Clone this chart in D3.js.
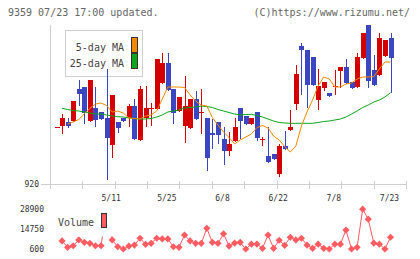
<!DOCTYPE html>
<html>
<head>
<meta charset="utf-8">
<script src="https://cdn.jsdelivr.net/npm/d3@7"></script>
<style>
  body { margin: 0; background: #fff; }
  svg { display: block; font-family: "DejaVu Sans Mono", monospace; }
</style>
</head>
<body>
<div id="chart"></div>
<script>
// Trading days shown on the chart
const dates = [
  "4/21","4/22","4/23","4/24","4/27","4/28","4/30","5/1","5/7","5/8",
  "5/11","5/12","5/13","5/14","5/15","5/18","5/19","5/20","5/21","5/22",
  "5/25","5/26","5/27","5/28","5/29","6/1","6/2","6/3","6/4","6/5",
  "6/8","6/9","6/10","6/11","6/12","6/15","6/16","6/17","6/18","6/19",
  "6/22","6/23","6/24","6/25","6/26","6/29","6/30","7/1","7/2","7/7",
  "7/8","7/9","7/10","7/13","7/14","7/15","7/16","7/17","7/20","7/21","7/23"
];

// Daily prices
const opens = [
  977, 978, 982, 983, 1015, 1017, 983, 996, 992, 986,
  959, 982, 986, 986, 998, 964, 986, 995, 995, 1021,
  1041, 1015, 993, 978, 976, 1005, 991, 986, 971, 982,
  965, 953, 963, 996, 988, 980, 992, 965, 948, 950,
  930, 958, 974, 1000, 1058, 1054, 1047, 1004, 1016, 1011,
  1018, 1033, 1037, 1022, 1017, 1046, 1079, 1034, 1029, 1048, 1066
];
const highs = [
  977, 990, 986, 1003, 1024, 1017, 1024, 1017, 992, 1035,
  1009, 982, 986, 1000, 1005, 1018, 1018, 1001, 1045, 1051,
  1051, 1015, 1007, 1028, 1005, 1013, 1015, 986, 985, 982,
  977, 972, 986, 996, 988, 986, 992, 967, 977, 950,
  960, 973, 994, 1039, 1061, 1054, 1047, 1035, 1022, 1011,
  1034, 1037, 1045, 1022, 1051, 1071, 1079, 1049, 1071, 1064, 1071
];
const lows = [
  977, 971, 977, 983, 999, 981, 983, 978, 985, 925,
  947, 972, 983, 978, 965, 964, 978, 979, 995, 1021,
  1014, 981, 993, 962, 976, 985, 971, 934, 956, 961,
  940, 949, 963, 966, 980, 980, 964, 959, 942, 945,
  928, 955, 974, 995, 1010, 997, 1019, 995, 1014, 1008,
  1010, 1017, 1021, 1016, 1017, 1046, 1017, 1019, 1029, 1048, 1012
];
const closes = [
  977, 986, 978, 1003, 1010, 991, 1024, 984, 985, 966,
  1009, 976, 983, 998, 965, 1015, 996, 996, 1045, 1041,
  1014, 991, 1007, 998, 1005, 985, 992, 946, 969, 969,
  953, 960, 977, 983, 980, 986, 966, 965, 942, 945,
  958, 955, 977, 1030, 1054, 1019, 1019, 1018, 1022, 1008,
  1018, 1037, 1021, 1016, 1047, 1071, 1023, 1019, 1066, 1064, 1046
];

// Moving averages
const ma5 = [
  null, null, 980, 982, 984.5, 990, 995.7, 1000, 1001, 998.5,
  992, 993, 991, 986, 985.5, 985, 988, 989, 993, 1005,
  1017, 1017, 1017, 1016.5, 1009, 1003, 999, 998, 986.5, 979,
  972, 966.5, 960, 964, 967, 970, 976.5, 978.5, 976, 968,
  964, 957.5, 952, 958, 978, 992, 1004, 1018, 1027, 1025,
  1017, 1017, 1020, 1021, 1025, 1027, 1027, 1027.5, 1035, 1042, 1042
];
const ma25 = [
  null, 995.7, 994.5, 993.5, 993, 992, 991, 990, 990, 989,
  988, 987.3, 987, 986, 985.5, 985, 985, 985.5, 987, 989,
  992, 993, 994, 996, 996.5, 997, 998, 997.5, 996.5, 994.5,
  993, 991.5, 990, 989, 989.5, 989.7, 988.5, 987, 985, 983,
  981.5, 981, 980.7, 980.7, 980.7, 980.7, 980.7, 981.5, 982.5, 983,
  984, 985, 987, 990, 993, 996.5, 999, 1002, 1004, 1007, 1011.3
];

// Volume
const volumes = [
  null, 6300, 1800, 2900, 7000, 5300, 4600, 2900, 2900, 28900,
  7000, 2200, 600, 2700, 3400, 8200, 3900, 4600, 8200, 7700,
  7700, 2200, 1800, 10500, 6300, 4600, 4600, 15200, 5300, 4600,
  11400, 2700, 4800, 5300, 600, 4000, 4100, 1100, 10500, 1100,
  6800, 3200, 8900, 7000, 8200, 3400, 1100, 4000, 1100, 600,
  4000, 4000, 14000, 600, 1800, 28800, 21700, 4800, 4000, 600, 8900
];

// Tick labels
const dateTicks = ["5/11", "5/25", "6/8", "6/22", "7/8", "7/23"];
const priceTicks = [920];
const volumeTicks = [600, 14750, 28900];

const W = 420, H = 259;
const plot = { left: 50, right: 406, top: 25, bottom: 184 };
const vol = { top: 209, bottom: 249 };

const upColor = "#d40000", downColor = "#3c46c0";
const volColor = "#ff5c62";

const svg = d3.select("#chart").append("svg")
  .attr("width", W)
  .attr("height", H);

const data = dates.map((d, i) => ({
  date: d, open: opens[i], high: highs[i], low: lows[i], close: closes[i],
  ma5: ma5[i], ma25: ma25[i], vol: volumes[i]
}));

// Scales
const x = d3.scalePoint()
  .domain(dates)
  .range([plot.left + 6.5, plot.right - 15.5]);

const y = d3.scaleLinear()
  .domain([920, 1079])
  .range([plot.bottom, plot.top]);

const yv = d3.scaleLinear()
  .domain([600, 28900])
  .range([vol.bottom, vol.top]);

const gridX = d3.scaleLinear().domain([0, 11]).range([plot.left, plot.right]);

// Header texts
svg.append("text")
  .attr("x", 8).attr("y", 15.5)
  .attr("font-size", 10).attr("fill", "#666")
  .text("9359 07/23 17:00 updated.");

svg.append("text")
  .attr("x", 410).attr("y", 15.5)
  .attr("text-anchor", "end")
  .attr("font-size", 10).attr("fill", "#666")
  .text("(C)https://www.rizumu.net/");

// Axis lines
const axisG = svg.append("g")
  .attr("stroke", "#cfcfcf")
  .attr("shape-rendering", "crispEdges");

axisG.append("line")
  .attr("x1", plot.left + 0.5).attr("x2", plot.left + 0.5)
  .attr("y1", plot.top).attr("y2", plot.bottom);

axisG.append("line")
  .attr("x1", plot.left - 9).attr("x2", plot.right)
  .attr("y1", plot.bottom + 0.5).attr("y2", plot.bottom + 0.5);

axisG.selectAll(".tick")
  .data(d3.range(0, 12))
  .enter().append("line")
  .attr("x1", d => Math.round(gridX(d)) + 0.5)
  .attr("x2", d => Math.round(gridX(d)) + 0.5)
  .attr("y1", plot.bottom - 3)
  .attr("y2", plot.bottom + 5);

// Price label
svg.selectAll(".ptick")
  .data(priceTicks)
  .enter().append("text")
  .attr("x", 39).attr("y", d => y(d) + 3)
  .attr("text-anchor", "end")
  .attr("font-size", 8).attr("fill", "#333")
  .text(d => d);

// Date labels
svg.selectAll(".dtick")
  .data(dateTicks)
  .enter().append("text")
  .attr("x", d => x(d) - 1)
  .attr("y", 201)
  .attr("text-anchor", "middle")
  .attr("font-size", 8).attr("fill", "#333")
  .text(d => d);

// MA legend box (drawn under the candles)
const leg = svg.append("g").attr("shape-rendering", "crispEdges");
leg.append("rect")
  .attr("x", 65.5).attr("y", 30.5)
  .attr("width", 77).attr("height", 46)
  .attr("fill", "#fff").attr("stroke", "#d0d0d0");

[["5-day MA", "#f08a00", 50.7], ["25-day MA", "#0ea51a", 66.7]].forEach(([label, col, by]) => {
  leg.append("text")
    .attr("x", 124).attr("y", by)
    .attr("text-anchor", "end")
    .attr("font-size", 10).attr("fill", "#444")
    .text(label);
  leg.append("rect")
    .attr("x", 131.5).attr("y", by - 13.5)
    .attr("width", 6).attr("height", 15)
    .attr("fill", col).attr("stroke", "#333");
});

// Candles
const candles = svg.append("g").attr("shape-rendering", "crispEdges");

data.forEach(d => {
  const cx = Math.round(x(d.date));
  const col = d.close >= d.open ? upColor : downColor;
  const top = Math.round(y(Math.max(d.open, d.close)));
  const bot = Math.round(y(Math.min(d.open, d.close)));

  candles.append("line")
    .attr("x1", cx + 0.5).attr("x2", cx + 0.5)
    .attr("y1", Math.round(y(d.high))).attr("y2", Math.round(y(d.low)) + 1)
    .attr("stroke", col);

  candles.append("rect")
    .attr("x", cx - 2)
    .attr("y", top)
    .attr("width", 5)
    .attr("height", Math.max(1, bot - top))
    .attr("fill", col);
});

// Moving average lines
const maLine = key => d3.line()
  .defined(d => d[key] != null)
  .x(d => x(d.date))
  .y(d => y(d[key]));

svg.append("path")
  .datum(data)
  .attr("fill", "none")
  .attr("stroke", "#0ea51a")
  .attr("stroke-width", 1)
  .attr("d", maLine("ma25"));

svg.append("path")
  .datum(data)
  .attr("fill", "none")
  .attr("stroke", "#f08a00")
  .attr("stroke-width", 1)
  .attr("d", maLine("ma5"));

// Volume axis labels
svg.selectAll(".vtick")
  .data(volumeTicks)
  .enter().append("text")
  .attr("x", 44).attr("y", d => yv(d) + 3)
  .attr("text-anchor", "end")
  .attr("font-size", 8).attr("fill", "#333")
  .text(d => d);

// Volume line and diamond markers
const volData = data.filter(d => d.vol != null);

svg.append("path")
  .datum(volData)
  .attr("fill", "none")
  .attr("stroke", volColor)
  .attr("stroke-width", 1)
  .attr("d", d3.line().x(d => x(d.date)).y(d => yv(d.vol)));

svg.selectAll(".vdot")
  .data(volData)
  .enter().append("path")
  .attr("d", d3.symbol(d3.symbolSquare, 26))
  .attr("transform", d => `translate(${x(d.date)},${yv(d.vol)}) rotate(45)`)
  .attr("fill", volColor);

// Volume legend (white patch over the line)
svg.append("rect")
  .attr("x", 54).attr("y", 204)
  .attr("width", 58).attr("height", 32.5)
  .attr("fill", "#fff");

svg.append("text")
  .attr("x", 58).attr("y", 226)
  .attr("font-size", 10).attr("fill", "#444")
  .text("Volume");

svg.append("rect")
  .attr("x", 101.5).attr("y", 213.5)
  .attr("width", 5).attr("height", 14)
  .attr("fill", volColor).attr("stroke", "#333")
  .attr("shape-rendering", "crispEdges");
</script>
</body>
</html>
